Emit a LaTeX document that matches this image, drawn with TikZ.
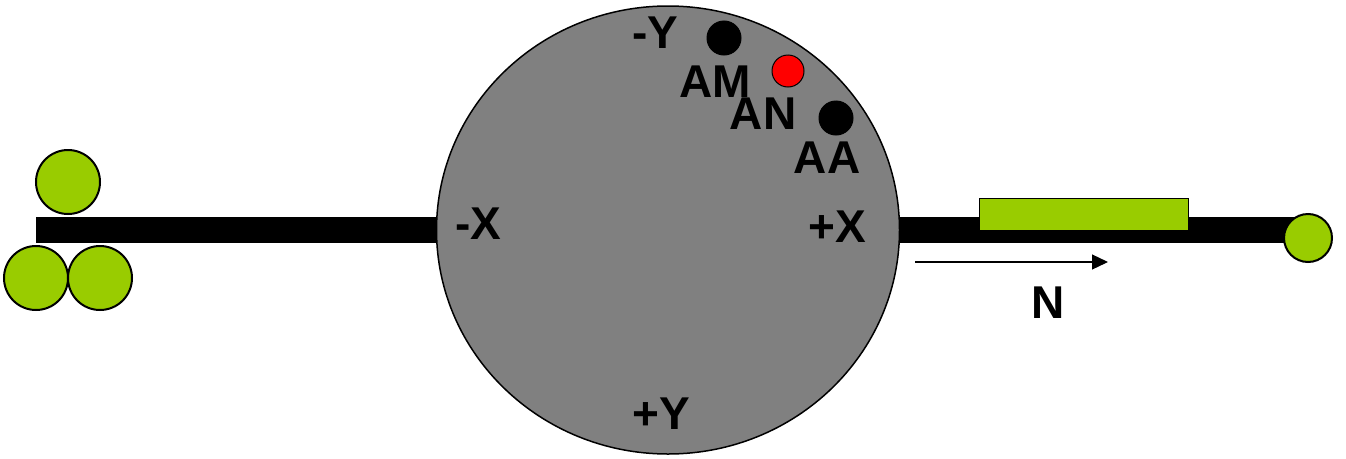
\documentclass[tikz,border=0pt]{standalone}
\usepackage{fontspec}
\setsansfont{Liberation Sans}
\usetikzlibrary{arrows.meta,shapes.geometric}
\definecolor{roller}{HTML}{99CC00}
\definecolor{disc}{HTML}{808080}

\begin{document}
\begin{tikzpicture}[x=1pt, y=-1pt, >=Triangle,
  every node/.style={inner sep=0pt},
  lbl/.style={font=\sffamily\bfseries\fontsize{46}{50}\selectfont},
  wheel/.style={circle, draw, line width=2pt, fill=roller, minimum size=64pt},
  dot/.style={circle, draw, line width=1pt, fill=black, minimum size=34pt},
  bar/.style={fill=black}]
\useasboundingbox (0,0) rectangle (1346,458);
% shaft
\fill[bar] (36,217) rectangle (668,243);
\fill[bar] (668,217) rectangle (1305,243);
% disc
\node[ellipse, draw, line width=1.5pt, fill=disc, minimum width=463pt, minimum height=448pt] (disk) at (668,230) {};
% rollers
\node[wheel] (rtop) at (68,182) {};
\node[wheel] (rbl) at (36,278) {};
\node[wheel] (rbr) at (100,278) {};
\node[wheel, minimum size=48pt] (rend) at (1308,238) {};
\node[draw, line width=1pt, fill=roller, minimum width=209pt, minimum height=32pt] (pad) at (1083.5,214) {};
% points on the disc
\node[dot] (am) at (724,38) {};
\node[dot, fill=red, minimum size=32pt] (an) at (788,71) {};
\node[dot] (aa) at (836,118) {};
% labels
\node[lbl] (my) at (655,33) {-Y};
\node[lbl] (lam) at (715,82) {AM};
\node[lbl] (lan) at (763,114) {AN};
\node[lbl] (laa) at (827,158) {AA};
\node[lbl] (mx) at (478,224) {-X};
\node[lbl] (px) at (837,227) {+X};
\node[lbl] (py) at (661,414) {+Y};
% direction
\coordinate (nfrom) at (915,262);
\coordinate (nto) at (1108,262);
\draw[->, line width=1.2pt, arrows={->[length=16pt, width=15pt]}] (nfrom) -- (nto);
\node[lbl] (n) at (1048,303) {N};
\end{tikzpicture}
\end{document}
